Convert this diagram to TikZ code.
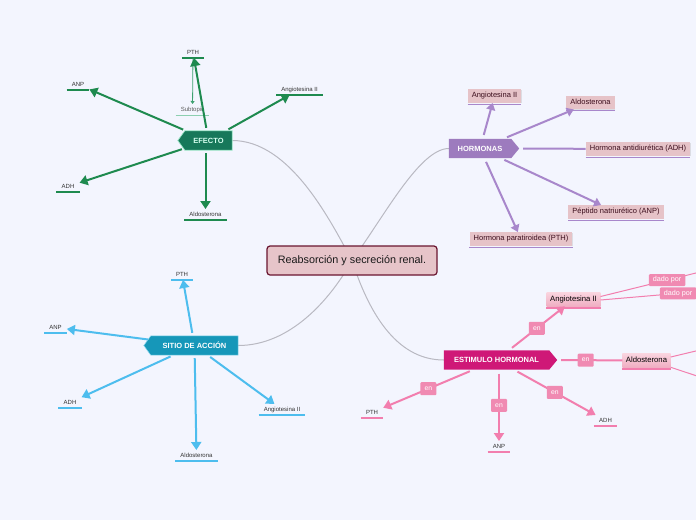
\documentclass[tikz,border=0pt]{standalone}
\usepackage{fontspec}
\setmainfont{Liberation Sans}
\usetikzlibrary{arrows.meta,backgrounds,shadows}
\definecolor{bgc}{HTML}{F3F5FE}
\definecolor{grayc}{HTML}{B9B9C2}
\definecolor{cfill}{HTML}{E6C4C9}
\definecolor{cdraw}{HTML}{6A1530}
\definecolor{gline}{HTML}{1E8A4F}
\definecolor{efill}{HTML}{17785A}
\definecolor{eborder}{HTML}{9EE8C8}
\definecolor{etext}{HTML}{D6FFF0}
\definecolor{glight}{HTML}{8CCFB0}
\definecolor{gmid}{HTML}{3DA070}
\definecolor{bline}{HTML}{4DBDEE}
\definecolor{sfill}{HTML}{1697B9}
\definecolor{sborder}{HTML}{8ED8EE}
\definecolor{pline}{HTML}{A887CB}
\definecolor{hfill}{HTML}{9D7BBE}
\definecolor{hbox}{HTML}{E6C3C8}
\definecolor{htext}{HTML}{3B0D1C}
\definecolor{kfill}{HTML}{CF1877}
\definecolor{kline}{HTML}{F27EAE}
\definecolor{kbox}{HTML}{F08AB2}
\definecolor{ktop}{HTML}{F9D3DE}
\definecolor{kbot}{HTML}{F0AEC3}
\definecolor{labtext}{HTML}{333333}
\begin{document}
\begin{tikzpicture}[x=1pt,y=-1pt,
  central/.style={draw=cdraw, fill=cfill, line width=1.2pt, rounded corners=3pt,
    minimum width=170pt, minimum height=29pt, inner sep=0pt,
    font=\fontsize{10.8}{12}\selectfont, text=black!90},
  topic/.style={minimum height=19pt, inner sep=0pt,
    font=\bfseries\fontsize{7.5}{8}\selectfont, text=white},
  lbl/.style={anchor=south, font=\fontsize{6}{7}\selectfont, text=labtext,
    inner xsep=5pt, inner ysep=2.5pt, text height=4.4pt, text depth=1.2pt},
  uline/.style 2 args={append after command={(\tikzlastnode.south west) edge[draw=#1, line width=#2] (\tikzlastnode.south east)}},
  gul/.style={uline={gline}{1.8pt}},
  bul/.style={uline={bline}{1.8pt}},
  kul/.style={uline={kline}{1.8pt}},
  subul/.style={uline={glight}{0.9pt}},
  hboxst/.style={fill=hbox, text=htext, font=\fontsize{7.5}{8}\selectfont,
    inner xsep=4pt, inner ysep=3.2pt, text height=5.5pt, text depth=1.6pt,
    drop shadow={shadow xshift=0.5pt, shadow yshift=-0.7pt, opacity=0.2},
    append after command={([yshift=-1.4pt]\tikzlastnode.south west) edge[draw=pline, line width=1.2pt] ([yshift=-1.4pt]\tikzlastnode.south east)}},
  sboxst/.style={top color=ktop, bottom color=kbot, text=black, font=\fontsize{7.7}{8}\selectfont,
    inner xsep=3.5pt, inner ysep=3pt, text height=5.6pt, text depth=1.6pt,
    drop shadow={shadow xshift=0.5pt, shadow yshift=-0.7pt, opacity=0.2},
    append after command={([yshift=-1.6pt]\tikzlastnode.south west) edge[draw=kline, line width=1.6pt] ([yshift=-1.6pt]\tikzlastnode.south east)}},
  gcurve/.style={draw=grayc, line width=1pt},
  garrow/.style={draw=gline, line width=2pt, shorten <=3pt, -{Triangle[length=8pt,width=10pt]}},
  subarrow/.style={draw=gmid, line width=0.8pt, -{Triangle[length=3pt,width=4pt]}},
  barrow/.style={draw=bline, line width=2pt, shorten <=3pt, -{Triangle[length=8pt,width=10pt]}},
  parrow/.style={draw=pline, line width=2pt, shorten <=4pt, -{Triangle[length=7pt,width=9pt]}},
  plinest/.style={draw=pline, line width=2pt, shorten <=12pt},
  karrow/.style={draw=kline, line width=2pt, shorten <=4pt, -{Triangle[length=8pt,width=10pt]}},
  klinest/.style={draw=kline, line width=2pt, shorten <=12pt},
  kthin/.style={draw=kline, line width=1pt},
  enbox/.style={fill=kbox, text=white, rounded corners=1pt, minimum width=16pt, minimum height=13pt,
    inner sep=0pt, font=\fontsize{6.8}{7}\selectfont},
  dadobox/.style={fill=kbox, text=white, rounded corners=1pt, minimum height=12pt,
    inner xsep=4pt, inner ysep=0pt, font=\fontsize{7.2}{8}\selectfont}
]
\useasboundingbox (0,0) rectangle (696,520);
\clip (0,0) rectangle (696,520);

% central and topic nodes
\node[central] (c) at (352,260.5) {Reabsorción y secreción renal.};
\node[topic, minimum width=47pt, text=etext] (efecto) at (208.5,140.5) {EFECTO};
\node[topic, minimum width=87pt] (sitio) at (194.5,345.5) {SITIO DE ACCIÓN};
\node[topic, minimum width=62pt] (horm) at (480,148.5) {HORMONAS};
\node[topic, minimum width=105pt] (estim) at (496.5,360) {ESTIMULO HORMONAL};

\begin{scope}[on background layer]
  \fill[bgc] (0,0) rectangle (696,520);
  \draw[gcurve] (c.center) .. controls (330,220) and (290,140.5) .. (efecto.east);
  \draw[gcurve] (c.center) .. controls (385,215) and (420,148.5) .. (horm.west);
  \draw[gcurve] (c.center) .. controls (330,300) and (290,345.5) .. (sitio.east);
  \draw[gcurve] (c.center) .. controls (368,310) and (395,360) .. (estim.west);
  \filldraw[fill=efill, draw=eborder, line width=0.7pt] (efecto.north west) -- (efecto.north east) -- (efecto.south east) -- (efecto.south west) -- ([xshift=-7pt]efecto.west) -- cycle;
  \filldraw[fill=sfill, draw=sborder, line width=0.5pt] (sitio.north west) -- (sitio.north east) -- (sitio.south east) -- (sitio.south west) -- ([xshift=-7pt]sitio.west) -- cycle;
  \fill[hfill] (horm.north west) -- (horm.north east) -- ([xshift=8pt]horm.east) -- (horm.south east) -- (horm.south west) -- cycle;
  \fill[kfill] (estim.north west) -- (estim.north east) -- ([xshift=8pt]estim.east) -- (estim.south east) -- (estim.south west) -- cycle;
\end{scope}

% EFECTO
\node[lbl, gul] (e-pth) at (193,58) {PTH};
\node[lbl, subul, text=labtext!80] (e-sub) at (192.5,115) {Subtopic};
\node[lbl, gul] (e-anp) at (78,90) {ANP};
\node[lbl, gul] (e-ang) at (299.5,95) {Angiotesina II};
\node[lbl, gul] (e-adh) at (68,192) {ADH};
\node[lbl, gul] (e-ald) at (205.5,220) {Aldosterona};
\draw[subarrow] (e-pth) -- (e-sub);
\draw[garrow] (efecto) -- (e-pth);
\draw[garrow] (efecto) -- (e-anp);
\draw[garrow] (efecto) -- (e-ang);
\draw[garrow] (efecto) -- (e-adh);
\draw[garrow] (efecto.south -| e-ald) -- (e-ald);

% SITIO DE ACCION
\node[lbl, bul] (s-pth) at (182,280) {PTH};
\node[lbl, bul] (s-anp) at (55.5,333) {ANP};
\node[lbl, bul] (s-adh) at (70,408) {ADH};
\node[lbl, bul] (s-ang) at (282,415) {Angiotesina II};
\node[lbl, bul] (s-ald) at (196.5,461) {Aldosterona};
\draw[barrow] (sitio) -- (s-pth);
\draw[barrow] (sitio) -- (s-anp);
\draw[barrow] (sitio) -- (s-adh);
\draw[barrow] (sitio) -- (s-ang);
\draw[barrow] (sitio) -- (s-ald);

% HORMONAS
\node[hboxst] (h-ang) at (494.5,96) {Angiotesina II};
\node[hboxst] (h-ald) at (590.5,102.5) {Aldosterona};
\node[hboxst] (h-adh) at (638,149) {Hormona antidiurética (ADH)};
\node[hboxst] (h-anp) at (616,212) {Péptido natriurético (ANP)};
\node[hboxst] (h-pth) at (521,239) {Hormona paratiroidea (PTH)};
\draw[parrow] (horm) -- (h-ang);
\draw[parrow] (horm) -- (h-ald);
\draw[plinest] (horm.east) -- (h-adh);
\draw[parrow] (horm) -- (h-anp);
\draw[parrow] (horm) -- (h-pth);

% ESTIMULO HORMONAL
\node[sboxst] (k-ang) at (573.5,299.5) {Angiotesina II};
\node[sboxst] (k-ald) at (646.5,360.5) {Aldosterona};
\node[lbl, kul] (k-pth) at (372,418) {PTH};
\node[lbl, kul] (k-anp) at (499,452) {ANP};
\node[lbl, kul] (k-adh) at (605.5,426) {ADH};
\draw[karrow] (estim) -- node[enbox] {en} (k-ang);
\draw[klinest] (estim.east) -- node[enbox] {en} (k-ald);
\draw[karrow] (estim) -- node[enbox] {en} (k-pth);
\draw[karrow] (estim.south -| k-anp) -- node[enbox] {en} (k-anp);
\draw[karrow] (estim) -- node[enbox] {en} (k-adh);

\coordinate (d1) at (700,272);
\coordinate (d2) at (700,291.5);
\coordinate (a1) at (700,350);
\coordinate (a2) at (700,377);
\draw[kthin] ([yshift=3pt]k-ang.east) -- node[dadobox, pos=0.67] (dp1) {dado por} (d1);
\draw[kthin] ([yshift=-0.5pt]k-ang.east) -- node[dadobox, pos=0.78] (dp2) {dado por} (d2);
\draw[kthin] ([yshift=3.5pt]k-ald.east) -- (a1);
\draw[kthin] (k-ald.south east) -- (a2);
\end{tikzpicture}
\end{document}
